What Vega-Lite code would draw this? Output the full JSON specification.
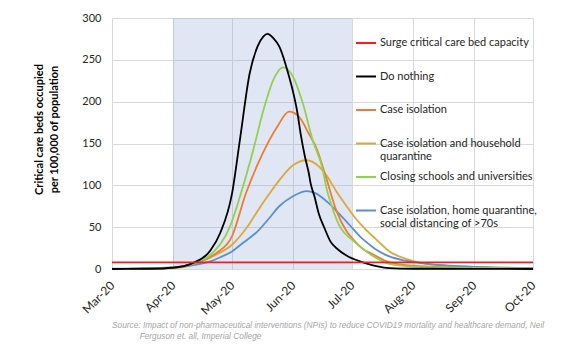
{
  "$schema": "https://vega.github.io/schema/vega-lite/v6.json",
  "width": 421,
  "height": 251,
  "padding": {"left": 33, "top": 12, "right": 5, "bottom": 5},
  "background": "white",
  "config": {"view": {"stroke": null}, "font": "Lato"},
  "title": {
    "text": ["Source: Impact of non-pharmaceutical interventions (NPIs) to reduce COVID19 mortality and healthcare demand, Neil", "\u200b\u00a0\u00a0\u00a0\u00a0\u00a0\u00a0\u00a0\u00a0\u00a0\u00a0\u00a0\u00a0Ferguson et. all, Imperial College"],
    "orient": "bottom",
    "anchor": "start",
    "frame": "group",
    "offset": 5,
    "font": "Liberation Sans",
    "fontSize": 8.3,
    "fontStyle": "italic",
    "fontWeight": "normal",
    "color": "#a6a6a6",
    "lineHeight": 11
  },
  "datasets": {
    "shade": [{"start": "2020-04-01", "end": "2020-07-01"}],
    "curves": [
      {"series": "Case isolation and household quarantine", "date": "2020-03-01", "value": 0},
      {"series": "Case isolation and household quarantine", "date": "2020-03-20", "value": 0.3},
      {"series": "Case isolation and household quarantine", "date": "2020-04-01", "value": 1},
      {"series": "Case isolation and household quarantine", "date": "2020-04-11", "value": 5},
      {"series": "Case isolation and household quarantine", "date": "2020-04-21", "value": 15},
      {"series": "Case isolation and household quarantine", "date": "2020-05-01", "value": 29},
      {"series": "Case isolation and household quarantine", "date": "2020-05-09", "value": 51},
      {"series": "Case isolation and household quarantine", "date": "2020-05-15", "value": 73},
      {"series": "Case isolation and household quarantine", "date": "2020-05-20", "value": 90},
      {"series": "Case isolation and household quarantine", "date": "2020-05-25", "value": 106},
      {"series": "Case isolation and household quarantine", "date": "2020-06-01", "value": 124},
      {"series": "Case isolation and household quarantine", "date": "2020-06-08", "value": 130},
      {"series": "Case isolation and household quarantine", "date": "2020-06-14", "value": 123},
      {"series": "Case isolation and household quarantine", "date": "2020-06-18", "value": 112},
      {"series": "Case isolation and household quarantine", "date": "2020-06-23", "value": 93},
      {"series": "Case isolation and household quarantine", "date": "2020-06-28", "value": 76},
      {"series": "Case isolation and household quarantine", "date": "2020-07-03", "value": 60},
      {"series": "Case isolation and household quarantine", "date": "2020-07-08", "value": 47},
      {"series": "Case isolation and household quarantine", "date": "2020-07-13", "value": 36},
      {"series": "Case isolation and household quarantine", "date": "2020-07-20", "value": 21},
      {"series": "Case isolation and household quarantine", "date": "2020-07-30", "value": 11},
      {"series": "Case isolation and household quarantine", "date": "2020-08-12", "value": 5},
      {"series": "Case isolation and household quarantine", "date": "2020-09-01", "value": 2.5},
      {"series": "Case isolation and household quarantine", "date": "2020-10-01", "value": 1},

      {"series": "Case isolation, home quarantine, social distancing of >70s", "date": "2020-03-01", "value": 0.5},
      {"series": "Case isolation, home quarantine, social distancing of >70s", "date": "2020-03-15", "value": 0.8},
      {"series": "Case isolation, home quarantine, social distancing of >70s", "date": "2020-04-01", "value": 2},
      {"series": "Case isolation, home quarantine, social distancing of >70s", "date": "2020-04-10", "value": 4},
      {"series": "Case isolation, home quarantine, social distancing of >70s", "date": "2020-04-20", "value": 9},
      {"series": "Case isolation, home quarantine, social distancing of >70s", "date": "2020-04-25", "value": 14},
      {"series": "Case isolation, home quarantine, social distancing of >70s", "date": "2020-05-01", "value": 21},
      {"series": "Case isolation, home quarantine, social distancing of >70s", "date": "2020-05-07", "value": 32},
      {"series": "Case isolation, home quarantine, social distancing of >70s", "date": "2020-05-14", "value": 45},
      {"series": "Case isolation, home quarantine, social distancing of >70s", "date": "2020-05-20", "value": 61},
      {"series": "Case isolation, home quarantine, social distancing of >70s", "date": "2020-05-25", "value": 75},
      {"series": "Case isolation, home quarantine, social distancing of >70s", "date": "2020-06-01", "value": 87},
      {"series": "Case isolation, home quarantine, social distancing of >70s", "date": "2020-06-08", "value": 93},
      {"series": "Case isolation, home quarantine, social distancing of >70s", "date": "2020-06-12", "value": 91},
      {"series": "Case isolation, home quarantine, social distancing of >70s", "date": "2020-06-19", "value": 79},
      {"series": "Case isolation, home quarantine, social distancing of >70s", "date": "2020-06-24", "value": 67},
      {"series": "Case isolation, home quarantine, social distancing of >70s", "date": "2020-06-30", "value": 52},
      {"series": "Case isolation, home quarantine, social distancing of >70s", "date": "2020-07-05", "value": 39},
      {"series": "Case isolation, home quarantine, social distancing of >70s", "date": "2020-07-10", "value": 29},
      {"series": "Case isolation, home quarantine, social distancing of >70s", "date": "2020-07-14", "value": 22},
      {"series": "Case isolation, home quarantine, social distancing of >70s", "date": "2020-07-20", "value": 15},
      {"series": "Case isolation, home quarantine, social distancing of >70s", "date": "2020-07-28", "value": 10},
      {"series": "Case isolation, home quarantine, social distancing of >70s", "date": "2020-08-05", "value": 7},
      {"series": "Case isolation, home quarantine, social distancing of >70s", "date": "2020-08-20", "value": 4},
      {"series": "Case isolation, home quarantine, social distancing of >70s", "date": "2020-09-10", "value": 2},
      {"series": "Case isolation, home quarantine, social distancing of >70s", "date": "2020-10-01", "value": 1},

      {"series": "Case isolation", "date": "2020-03-01", "value": 0},
      {"series": "Case isolation", "date": "2020-03-20", "value": 0.3},
      {"series": "Case isolation", "date": "2020-04-01", "value": 1.5},
      {"series": "Case isolation", "date": "2020-04-11", "value": 6},
      {"series": "Case isolation", "date": "2020-04-23", "value": 19},
      {"series": "Case isolation", "date": "2020-05-01", "value": 39},
      {"series": "Case isolation", "date": "2020-05-08", "value": 90},
      {"series": "Case isolation", "date": "2020-05-15", "value": 130},
      {"series": "Case isolation", "date": "2020-05-20", "value": 154},
      {"series": "Case isolation", "date": "2020-05-24", "value": 170},
      {"series": "Case isolation", "date": "2020-05-30", "value": 188},
      {"series": "Case isolation", "date": "2020-06-04", "value": 182},
      {"series": "Case isolation", "date": "2020-06-09", "value": 162},
      {"series": "Case isolation", "date": "2020-06-13", "value": 144},
      {"series": "Case isolation", "date": "2020-06-18", "value": 108},
      {"series": "Case isolation", "date": "2020-06-23", "value": 70},
      {"series": "Case isolation", "date": "2020-06-28", "value": 46},
      {"series": "Case isolation", "date": "2020-07-01", "value": 37},
      {"series": "Case isolation", "date": "2020-07-06", "value": 25},
      {"series": "Case isolation", "date": "2020-07-12", "value": 17},
      {"series": "Case isolation", "date": "2020-07-20", "value": 8},
      {"series": "Case isolation", "date": "2020-08-01", "value": 4},
      {"series": "Case isolation", "date": "2020-08-20", "value": 2},
      {"series": "Case isolation", "date": "2020-09-10", "value": 1},
      {"series": "Case isolation", "date": "2020-10-01", "value": 0.5},

      {"series": "Closing schools and universities", "date": "2020-03-01", "value": 0},
      {"series": "Closing schools and universities", "date": "2020-03-20", "value": 0.3},
      {"series": "Closing schools and universities", "date": "2020-04-01", "value": 1.5},
      {"series": "Closing schools and universities", "date": "2020-04-11", "value": 6},
      {"series": "Closing schools and universities", "date": "2020-04-21", "value": 19},
      {"series": "Closing schools and universities", "date": "2020-04-30", "value": 51},
      {"series": "Closing schools and universities", "date": "2020-05-06", "value": 94},
      {"series": "Closing schools and universities", "date": "2020-05-12", "value": 144},
      {"series": "Closing schools and universities", "date": "2020-05-17", "value": 190},
      {"series": "Closing schools and universities", "date": "2020-05-22", "value": 226},
      {"series": "Closing schools and universities", "date": "2020-05-27", "value": 241},
      {"series": "Closing schools and universities", "date": "2020-06-01", "value": 230},
      {"series": "Closing schools and universities", "date": "2020-06-06", "value": 198},
      {"series": "Closing schools and universities", "date": "2020-06-11", "value": 154},
      {"series": "Closing schools and universities", "date": "2020-06-16", "value": 120},
      {"series": "Closing schools and universities", "date": "2020-06-18", "value": 97},
      {"series": "Closing schools and universities", "date": "2020-06-21", "value": 73},
      {"series": "Closing schools and universities", "date": "2020-06-25", "value": 50},
      {"series": "Closing schools and universities", "date": "2020-07-01", "value": 35},
      {"series": "Closing schools and universities", "date": "2020-07-06", "value": 25},
      {"series": "Closing schools and universities", "date": "2020-07-12", "value": 15},
      {"series": "Closing schools and universities", "date": "2020-07-20", "value": 6},
      {"series": "Closing schools and universities", "date": "2020-08-03", "value": 2.5},
      {"series": "Closing schools and universities", "date": "2020-08-20", "value": 1.5},
      {"series": "Closing schools and universities", "date": "2020-09-10", "value": 1},
      {"series": "Closing schools and universities", "date": "2020-10-01", "value": 0.5},

      {"series": "Do nothing", "date": "2020-03-01", "value": 0},
      {"series": "Do nothing", "date": "2020-03-20", "value": 0.3},
      {"series": "Do nothing", "date": "2020-04-01", "value": 1.5},
      {"series": "Do nothing", "date": "2020-04-11", "value": 7},
      {"series": "Do nothing", "date": "2020-04-20", "value": 22},
      {"series": "Do nothing", "date": "2020-04-25", "value": 43},
      {"series": "Do nothing", "date": "2020-05-01", "value": 90},
      {"series": "Do nothing", "date": "2020-05-05", "value": 154},
      {"series": "Do nothing", "date": "2020-05-10", "value": 234},
      {"series": "Do nothing", "date": "2020-05-14", "value": 266},
      {"series": "Do nothing", "date": "2020-05-17", "value": 278},
      {"series": "Do nothing", "date": "2020-05-19", "value": 281},
      {"series": "Do nothing", "date": "2020-05-22", "value": 276},
      {"series": "Do nothing", "date": "2020-05-25", "value": 266},
      {"series": "Do nothing", "date": "2020-05-30", "value": 230},
      {"series": "Do nothing", "date": "2020-06-01", "value": 212},
      {"series": "Do nothing", "date": "2020-06-03", "value": 190},
      {"series": "Do nothing", "date": "2020-06-05", "value": 160},
      {"series": "Do nothing", "date": "2020-06-07", "value": 135},
      {"series": "Do nothing", "date": "2020-06-09", "value": 115},
      {"series": "Do nothing", "date": "2020-06-10", "value": 102},
      {"series": "Do nothing", "date": "2020-06-12", "value": 86},
      {"series": "Do nothing", "date": "2020-06-14", "value": 67},
      {"series": "Do nothing", "date": "2020-06-17", "value": 49},
      {"series": "Do nothing", "date": "2020-06-20", "value": 33},
      {"series": "Do nothing", "date": "2020-06-24", "value": 23},
      {"series": "Do nothing", "date": "2020-06-29", "value": 15},
      {"series": "Do nothing", "date": "2020-07-04", "value": 10},
      {"series": "Do nothing", "date": "2020-07-09", "value": 6},
      {"series": "Do nothing", "date": "2020-07-14", "value": 3},
      {"series": "Do nothing", "date": "2020-07-20", "value": 1},
      {"series": "Do nothing", "date": "2020-08-01", "value": 0.3},
      {"series": "Do nothing", "date": "2020-10-01", "value": 0},

      {"series": "Surge critical care bed capacity", "date": "2020-03-01", "value": 8},
      {"series": "Surge critical care bed capacity", "date": "2020-10-01", "value": 8}
    ]
  },
  "layer": [
    {
      "data": {"name": "shade"},
      "mark": {"type": "rect", "color": "#8ea5d4", "opacity": 0.28},
      "encoding": {
        "x": {"field": "start", "type": "temporal"},
        "x2": {"field": "end"}
      }
    },
    {
      "data": {"name": "curves"},
      "mark": {"type": "line", "strokeWidth": 1.8, "interpolate": "monotone"},
      "encoding": {
        "x": {
          "field": "date",
          "type": "temporal",
          "scale": {
            "type": "utc",
            "domain": [
              {"year": 2020, "month": 3, "date": 1, "utc": true},
              {"year": 2020, "month": 10, "date": 1, "utc": true}
            ]
          },
          "axis": {
            "title": null,
            "format": "%b-%y",
            "values": [
              {"year": 2020, "month": 3, "date": 1, "utc": true},
              {"year": 2020, "month": 4, "date": 1, "utc": true},
              {"year": 2020, "month": 5, "date": 1, "utc": true},
              {"year": 2020, "month": 6, "date": 1, "utc": true},
              {"year": 2020, "month": 7, "date": 1, "utc": true},
              {"year": 2020, "month": 8, "date": 1, "utc": true},
              {"year": 2020, "month": 9, "date": 1, "utc": true},
              {"year": 2020, "month": 10, "date": 1, "utc": true}
            ],
            "labelAngle": -45,
            "labelAlign": "right",
            "labelBaseline": "middle",
            "labelPadding": 14,
            "labelFontSize": 12,
            "labelColor": "#262626",
            "labelFlush": false,
            "labelOverlap": false,
            "labelBound": false,
            "ticks": false,
            "domain": false,
            "grid": true,
            "gridColor": "#d9d9d9",
            "gridWidth": 1
          }
        },
        "y": {
          "field": "value",
          "type": "quantitative",
          "scale": {"domain": [0, 300], "nice": false},
          "axis": {
            "title": ["Critical care beds occupied", "per 100,000 of population"],
            "titleFontWeight": "bold",
            "titleFontSize": 11,
            "titleColor": "#000000",
            "titleLineHeight": 15,
            "titlePadding": 22,
            "titleY": 111,
            "values": [0, 50, 100, 150, 200, 250, 300],
            "labelFontSize": 11,
            "labelColor": "#262626",
            "labelPadding": 11,
            "ticks": false,
            "domain": false,
            "grid": true,
            "gridColor": "#d9d9d9",
            "gridWidth": 1
          }
        },
        "color": {
          "field": "series",
          "type": "nominal",
          "scale": {
            "domain": [
              "Surge critical care bed capacity",
              "Do nothing",
              "Case isolation",
              "Case isolation and household quarantine",
              "Closing schools and universities",
              "Case isolation, home quarantine, social distancing of >70s"
            ],
            "range": ["#ff1a1a", "#000000", "#ed7d31", "#dba93a", "#92d050", "#5b8fcf"]
          },
          "legend": {
            "title": null,
            "orient": "none",
            "legendX": 243,
            "legendY": 14,
            "padding": 0,
            "symbolType": "stroke",
            "symbolSize": 400,
            "symbolStrokeWidth": 2,
            "labelFont": "Lato",
            "labelFontSize": 11,
            "labelColor": "#262626",
            "labelOffset": 3,
            "labelLimit": 300,
            "labelBaseline": "top",
            "gridAlign": "all",
            "rowPadding": 4.5,
            "labelExpr": "datum.label == 'Case isolation and household quarantine' ? ['Case isolation and household', 'quarantine'] : datum.label == 'Case isolation, home quarantine, social distancing of >70s' ? ['Case isolation, home quarantine,', 'social distancing of >70s'] : datum.label",
            "encode": {"labels": {"update": {"dy": {"value": -6}}}}
          }
        }
      }
    }
  ]
}
